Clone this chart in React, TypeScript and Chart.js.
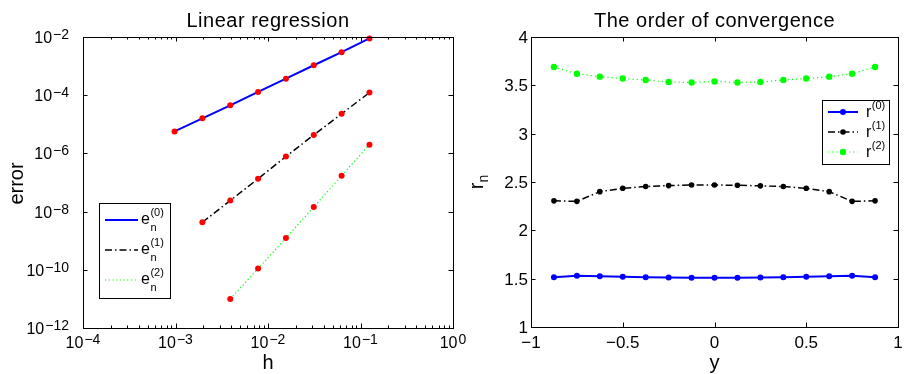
import React, { useEffect, useRef } from 'react';
import { Chart, registerables } from 'chart.js';

Chart.register(...registerables);

// ---------- data: left panel (log-log) ----------
const hValues0 = [0.0009765625, 0.001953125, 0.00390625, 0.0078125, 0.015625, 0.03125, 0.0625, 0.125];
const errors0 = [5.7e-6, 1.6e-5, 4.5e-5, 1.3e-4, 3.7e-4, 1.07e-3, 3.0e-3, 8.9e-3];
const hValues1 = [0.001953125, 0.00390625, 0.0078125, 0.015625, 0.03125, 0.0625, 0.125];
const errors1 = [4.3e-9, 2.4e-8, 1.35e-7, 7.8e-7, 4.3e-6, 2.3e-5, 1.23e-4];
const hValues2 = [0.00390625, 0.0078125, 0.015625, 0.03125, 0.0625, 0.125];
const errors2 = [1.0e-11, 1.1e-10, 1.23e-9, 1.45e-8, 1.7e-7, 2.0e-6];

const logXTickExponents = [-4, -3, -2, -1, 0];
const logYTickExponents = [-12, -10, -8, -6, -4, -2];
const logMinorMultipliers = [2, 3, 4, 5, 6, 7, 8, 9];
const leftLegendLabels = ['(0)', '(1)', '(2)'];

// ---------- data: right panel (linear) ----------
const yPositions = [-0.875, -0.75, -0.625, -0.5, -0.375, -0.25, -0.125, 0, 0.125, 0.25, 0.375, 0.5, 0.625, 0.75, 0.875];
const order0 = [1.515, 1.53, 1.525, 1.52, 1.515, 1.512, 1.51, 1.51, 1.51, 1.512, 1.515, 1.52, 1.525, 1.53, 1.515];
const order1 = [2.305, 2.3, 2.4, 2.435, 2.453, 2.463, 2.469, 2.469, 2.466, 2.46, 2.453, 2.435, 2.4, 2.3, 2.305];
const order2 = [3.69, 3.62, 3.59, 3.57, 3.555, 3.535, 3.53, 3.54, 3.53, 3.535, 3.555, 3.57, 3.59, 3.62, 3.69];

const linXTicks = [-1, -0.5, 0, 0.5, 1];
const linYTicks = [1, 1.5, 2, 2.5, 3, 3.5, 4];
const rightLegendLabels = ['(0)', '(1)', '(2)'];

const FONT = '"Liberation Sans", Arial, Helvetica, sans-serif';
const TICK_MAJOR = 4.5;
const TICK_MINOR = 2.5;
const RIGHT_OFFSET = 460;
const LIN_TICK_FONT = 17;

const zip = (xs: number[], ys: number[]) => xs.map((x, i) => ({ x, y: ys[i] }));
const fmt = (v: number) => (v < 0 ? '\u2212' + String(Math.abs(v)) : String(v));

function drawPowerLabel(ctx: CanvasRenderingContext2D, exp: number, x: number, baseline: number, align: 'center' | 'right') {
  const base = '10';
  const sup = exp < 0 ? '\u2212' + Math.abs(exp) : String(exp);
  ctx.font = `16px ${FONT}`;
  const wb = ctx.measureText(base).width;
  ctx.font = `14px ${FONT}`;
  const ws = ctx.measureText(sup).width;
  const gap = 1;
  const total = wb + gap + ws;
  const start = align === 'center' ? x - total / 2 : x - total;
  ctx.textAlign = 'left';
  ctx.textBaseline = 'alphabetic';
  ctx.font = `16px ${FONT}`;
  ctx.fillText(base, start, baseline);
  ctx.font = `14px ${FONT}`;
  ctx.fillText(sup, start + wb + gap, baseline - 4);
}

function line(ctx: CanvasRenderingContext2D, x1: number, y1: number, x2: number, y2: number) {
  ctx.beginPath();
  ctx.moveTo(x1, y1);
  ctx.lineTo(x2, y2);
  ctx.stroke();
}

function drawTitle(ctx: CanvasRenderingContext2D, text: string, cx: number, baseline: number) {
  ctx.save();
  ctx.fillStyle = '#000';
  ctx.font = `20px ${FONT}`;
  (ctx as any).letterSpacing = '0.5px';
  ctx.textAlign = 'center';
  ctx.textBaseline = 'alphabetic';
  ctx.fillText(text, cx, baseline);
  ctx.restore();
}

function drawBox(ctx: CanvasRenderingContext2D, a: { left: number; right: number; top: number; bottom: number }) {
  ctx.save();
  ctx.strokeStyle = '#000';
  ctx.lineWidth = 1;
  ctx.setLineDash([]);
  ctx.strokeRect(Math.round(a.left) + 0.5, Math.round(a.top) + 0.5, Math.round(a.right - a.left), Math.round(a.bottom - a.top));
  ctx.restore();
}

function legendSample(ctx: CanvasRenderingContext2D, ds: any, x1: number, x2: number, y: number, marker: boolean) {
  ctx.save();
  ctx.strokeStyle = ds.borderColor;
  ctx.lineWidth = ds.borderWidth;
  ctx.setLineDash(ds.borderDash || []);
  line(ctx, x1, y, x2, y);
  ctx.setLineDash([]);
  if (marker) {
    ctx.fillStyle = ds.pointBackgroundColor;
    ctx.beginPath();
    ctx.arc((x1 + x2) / 2, y, ds.pointRadius, 0, Math.PI * 2);
    ctx.fill();
  }
  ctx.restore();
}

const leftFramePlugin = {
  id: 'leftFrame',
  afterDraw(chart: any) {
    const ctx: CanvasRenderingContext2D = chart.ctx;
    const a = chart.chartArea;
    const xs = chart.scales.x;
    const ys = chart.scales.y;
    drawBox(ctx, a);
    ctx.save();
    ctx.strokeStyle = '#000';
    ctx.lineWidth = 1;
    logXTickExponents.forEach((e) => {
      const px = Math.round(xs.getPixelForValue(Math.pow(10, e))) + 0.5;
      line(ctx, px, a.bottom, px, a.bottom - TICK_MAJOR);
      line(ctx, px, a.top, px, a.top + TICK_MAJOR);
      if (e < 0) {
        logMinorMultipliers.forEach((m) => {
          const mx = Math.round(xs.getPixelForValue(m * Math.pow(10, e))) + 0.5;
          line(ctx, mx, a.bottom, mx, a.bottom - TICK_MINOR);
          line(ctx, mx, a.top, mx, a.top + TICK_MINOR);
        });
      }
    });
    logYTickExponents.forEach((e) => {
      const py = Math.round(ys.getPixelForValue(Math.pow(10, e))) + 0.5;
      line(ctx, a.left, py, a.left + TICK_MAJOR, py);
      line(ctx, a.right, py, a.right - TICK_MAJOR, py);
    });
    ctx.fillStyle = '#000';
    logXTickExponents.forEach((e) => {
      drawPowerLabel(ctx, e, xs.getPixelForValue(Math.pow(10, e)), 348, 'center');
    });
    logYTickExponents.forEach((e) => {
      drawPowerLabel(ctx, e, 69, ys.getPixelForValue(Math.pow(10, e)) + 6, 'right');
    });
    ctx.font = `20px ${FONT}`;
    ctx.textAlign = 'center';
    ctx.textBaseline = 'alphabetic';
    ctx.fillText('h', (a.left + a.right) / 2, 369);
    ctx.save();
    ctx.translate(23, (a.top + a.bottom) / 2 + 1);
    ctx.rotate(-Math.PI / 2);
    ctx.fillText('error', 0, 0);
    ctx.restore();
    ctx.restore();
    drawTitle(ctx, 'Linear regression', (a.left + a.right) / 2, 27);

    // legend
    ctx.save();
    const bx = 99, by = 203, bw = 71, bh = 95;
    ctx.fillStyle = '#fff';
    ctx.fillRect(bx, by, bw, bh);
    ctx.strokeStyle = '#000';
    ctx.lineWidth = 1;
    ctx.strokeRect(bx + 0.5, by + 0.5, bw, bh);
    const rows = [220, 250, 280];
    chart.data.datasets.forEach((ds: any, i: number) => {
      const y = rows[i];
      legendSample(ctx, ds, 105, 138, y, false);
      ctx.fillStyle = '#000';
      ctx.textAlign = 'left';
      ctx.textBaseline = 'alphabetic';
      ctx.font = `16px ${FONT}`;
      ctx.fillText('e', 141, y + 4);
      const we = ctx.measureText('e').width;
      ctx.font = `11px ${FONT}`;
      ctx.fillText(leftLegendLabels[i], 141 + we + 0.5, y - 4);
      ctx.fillText('n', 141 + we + 0.5, y + 11);
    });
    ctx.restore();
  },
};

const rightFramePlugin = {
  id: 'rightFrame',
  afterDraw(chart: any) {
    const ctx: CanvasRenderingContext2D = chart.ctx;
    const a = chart.chartArea;
    const xs = chart.scales.x;
    const ys = chart.scales.y;
    drawBox(ctx, a);
    ctx.save();
    ctx.strokeStyle = '#000';
    ctx.lineWidth = 1;
    linXTicks.forEach((v) => {
      const px = Math.round(xs.getPixelForValue(v)) + 0.5;
      line(ctx, px, a.bottom, px, a.bottom - TICK_MAJOR);
      line(ctx, px, a.top, px, a.top + TICK_MAJOR);
    });
    linYTicks.forEach((v) => {
      const py = Math.round(ys.getPixelForValue(v)) + 0.5;
      line(ctx, a.left, py, a.left + TICK_MAJOR, py);
      line(ctx, a.right, py, a.right - TICK_MAJOR, py);
    });
    ctx.fillStyle = '#000';
    ctx.font = `${LIN_TICK_FONT}px ${FONT}`;
    ctx.textBaseline = 'alphabetic';
    ctx.textAlign = 'center';
    linXTicks.forEach((v) => {
      ctx.fillText(fmt(v), xs.getPixelForValue(v), 348);
    });
    ctx.textAlign = 'right';
    linYTicks.forEach((v) => {
      ctx.fillText(fmt(v), a.left - 3, ys.getPixelForValue(v) + 6);
    });
    ctx.font = `20px ${FONT}`;
    ctx.textAlign = 'center';
    ctx.fillText('y', (a.left + a.right) / 2, 369);
    ctx.save();
    ctx.translate(483 - RIGHT_OFFSET, (a.top + a.bottom) / 2);
    ctx.rotate(-Math.PI / 2);
    ctx.textAlign = 'left';
    ctx.font = `20px ${FONT}`;
    const wr = ctx.measureText('r').width;
    ctx.font = `14px ${FONT}`;
    const wn = ctx.measureText('n').width;
    const start = -(wr + wn) / 2;
    ctx.font = `20px ${FONT}`;
    ctx.fillText('r', start, 0);
    ctx.font = `14px ${FONT}`;
    ctx.fillText('n', start + wr, 5);
    ctx.restore();
    ctx.restore();
    drawTitle(ctx, 'The order of convergence', (a.left + a.right) / 2, 27);

    // legend
    ctx.save();
    const bx = 822 - RIGHT_OFFSET, by = 100, bw = 67, bh = 64;
    ctx.fillStyle = '#fff';
    ctx.fillRect(bx, by, bw, bh);
    ctx.strokeStyle = '#000';
    ctx.lineWidth = 1;
    ctx.strokeRect(bx + 0.5, by + 0.5, bw, bh);
    const rows = [112, 132, 152];
    chart.data.datasets.forEach((ds: any, i: number) => {
      const y = rows[i];
      legendSample(ctx, ds, bx + 6, bx + 36, y, true);
      ctx.fillStyle = '#000';
      ctx.textAlign = 'left';
      ctx.textBaseline = 'alphabetic';
      ctx.font = `16px ${FONT}`;
      const tx = bx + 44;
      ctx.fillText('r', tx, y + 5);
      const wr2 = ctx.measureText('r').width;
      ctx.font = `11px ${FONT}`;
      ctx.fillText(rightLegendLabels[i], tx + wr2 + 0.5, y - 3);
    });
    ctx.restore();
  },
};

function hiddenScale(type: string, min: number, max: number, size: number, horizontal: boolean) {
  return {
    type,
    min,
    max,
    ticks: { display: false },
    grid: { display: false },
    border: { display: false },
    afterFit: (s: any) => {
      if (horizontal) s.height = size;
      else s.width = size;
    },
  };
}

export default function App() {
  const leftRef = useRef<HTMLCanvasElement | null>(null);
  const rightRef = useRef<HTMLCanvasElement | null>(null);

  useEffect(() => {
    const red = '#ff0000';
    const left = new Chart(leftRef.current as HTMLCanvasElement, {
      type: 'line',
      data: {
        datasets: [
          {
            data: zip(hValues0, errors0),
            borderColor: '#0000ff',
            borderWidth: 2,
            pointRadius: 3,
            pointBackgroundColor: red,
            pointBorderColor: red,
            pointBorderWidth: 0,
            borderDash: [],
            tension: 0,
            clip: false,
          },
          {
            data: zip(hValues1, errors1),
            borderColor: '#000000',
            borderWidth: 1.5,
            borderDash: [7, 3, 1.5, 3],
            pointRadius: 3,
            pointBackgroundColor: red,
            pointBorderColor: red,
            pointBorderWidth: 0,
            tension: 0,
            clip: false,
          },
          {
            data: zip(hValues2, errors2),
            borderColor: '#00ff00',
            borderWidth: 1.2,
            borderDash: [1.2, 2.5],
            pointRadius: 3,
            pointBackgroundColor: red,
            pointBorderColor: red,
            pointBorderWidth: 0,
            tension: 0,
            clip: false,
          },
        ] as any,
      },
      options: {
        animation: false,
        responsive: false,
        devicePixelRatio: 1,
        layout: { padding: { top: 37, right: 27, left: 0, bottom: 0 } },
        plugins: { legend: { display: false }, tooltip: { enabled: false }, title: { display: false } },
        scales: {
          x: hiddenScale('logarithmic', 1e-4, 1, 46, true),
          y: hiddenScale('logarithmic', 1e-12, 1e-2, 83, false),
        } as any,
      },
      plugins: [leftFramePlugin],
    });

    const right = new Chart(rightRef.current as HTMLCanvasElement, {
      type: 'line',
      data: {
        datasets: [
          {
            data: zip(yPositions, order0),
            borderColor: '#0000ff',
            borderWidth: 2,
            borderDash: [],
            pointRadius: 3,
            pointBackgroundColor: '#0000ff',
            pointBorderColor: '#0000ff',
            pointBorderWidth: 0,
            tension: 0,
            clip: false,
          },
          {
            data: zip(yPositions, order1),
            borderColor: '#000000',
            borderWidth: 1.5,
            borderDash: [7, 3, 1.5, 3],
            pointRadius: 2.8,
            pointBackgroundColor: '#000000',
            pointBorderColor: '#000000',
            pointBorderWidth: 0,
            tension: 0,
            clip: false,
          },
          {
            data: zip(yPositions, order2),
            borderColor: '#00ff00',
            borderWidth: 1.2,
            borderDash: [1.2, 3],
            pointRadius: 3.2,
            pointBackgroundColor: '#00ff00',
            pointBorderColor: '#00ff00',
            pointBorderWidth: 0,
            tension: 0,
            clip: false,
          },
        ] as any,
      },
      options: {
        animation: false,
        responsive: false,
        devicePixelRatio: 1,
        layout: { padding: { top: 37, right: 7, left: 0, bottom: 0 } },
        plugins: { legend: { display: false }, tooltip: { enabled: false }, title: { display: false } },
        scales: {
          x: hiddenScale('linear', -1, 1, 47, true),
          y: hiddenScale('linear', 1, 4, 71, false),
        } as any,
      },
      plugins: [rightFramePlugin],
    });

    return () => {
      left.destroy();
      right.destroy();
    };
  }, []);

  return (
    <div style={{ position: 'fixed', left: 0, top: 0, width: 905, height: 374, background: '#fff' }}>
      <canvas ref={leftRef} width={480} height={374} style={{ position: 'absolute', left: 0, top: 0, width: 480, height: 374 }} />
      <canvas ref={rightRef} width={445} height={374} style={{ position: 'absolute', left: RIGHT_OFFSET, top: 0, width: 445, height: 374 }} />
    </div>
  );
}
